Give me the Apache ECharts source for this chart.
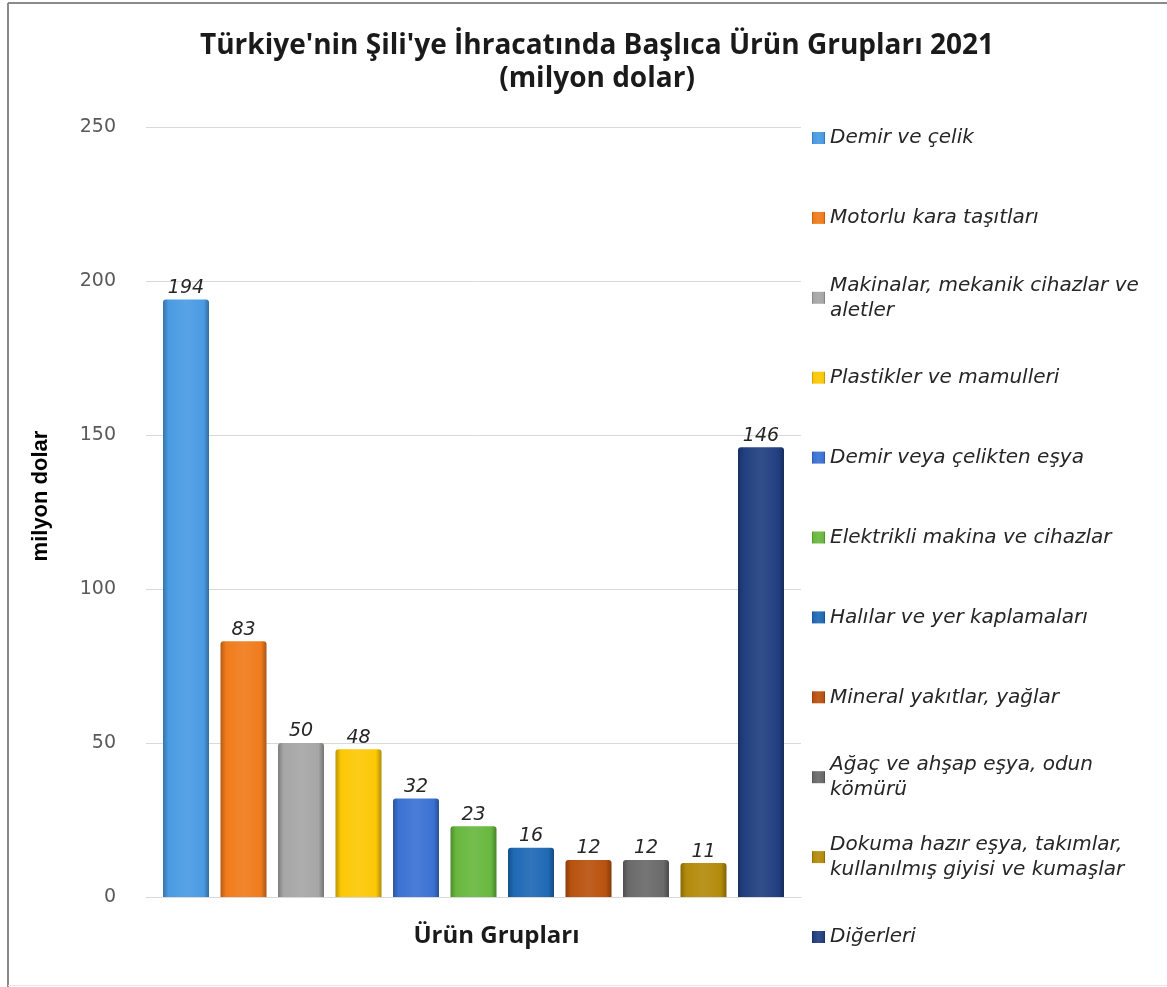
<!DOCTYPE html>
<html>
<head>
<meta charset="utf-8">
<script src="https://cdn.jsdelivr.net/npm/echarts@6/dist/echarts.min.js"></script>
<style>html,body{margin:0;padding:0;background:#fff;}#c{width:1167px;height:987px;}</style>
</head>
<body>
<div id="c"></div>
<script>
// ---- data ----
const productGroups = [
  'Demir ve çelik',
  'Motorlu kara taşıtları',
  'Makinalar, mekanik cihazlar ve aletler',
  'Plastikler ve mamulleri',
  'Demir veya çelikten eşya',
  'Elektrikli makina ve cihazlar',
  'Halılar ve yer kaplamaları',
  'Mineral yakıtlar, yağlar',
  'Ağaç ve ahşap eşya, odun kömürü',
  'Dokuma hazır eşya, takımlar, kullanılmış giyisi ve kumaşlar',
  'Diğerleri'
];
const legendLabels = [
  'Demir ve çelik',
  'Motorlu kara taşıtları',
  'Makinalar, mekanik cihazlar ve\naletler',
  'Plastikler ve mamulleri',
  'Demir veya çelikten eşya',
  'Elektrikli makina ve cihazlar',
  'Halılar ve yer kaplamaları',
  'Mineral yakıtlar, yağlar',
  'Ağaç ve ahşap eşya, odun\nkömürü',
  'Dokuma hazır eşya, takımlar,\nkullanılmış giyisi ve kumaşlar',
  'Diğerleri'
];
const exportValues = [194, 83, 50, 48, 32, 23, 16, 12, 12, 11, 146];
const yTicks = [0, 50, 100, 150, 200, 250];
const titleText = "Türkiye'nin Şili'ye İhracatında Başlıca Ürün Grupları 2021\n(milyon dolar)";
const yAxisName = 'milyon dolar';
const xAxisName = 'Ürün Grupları';

// ---- styles ----
const baseColors = ['#4a9be3', '#f07b1c', '#a6a6a6', '#fcc805', '#3b72d3', '#68b83f',
                    '#1f69b5', '#b9520f', '#6a6a6a', '#b38b0b', '#213f80'];
function shade(hex, f) {
  const n = parseInt(hex.slice(1), 16);
  let r = (n >> 16) & 255, g = (n >> 8) & 255, b = n & 255;
  if (f < 0) { r = r * (1 + f); g = g * (1 + f); b = b * (1 + f); }
  else { r = r + (255 - r) * f; g = g + (255 - g) * f; b = b + (255 - b) * f; }
  return 'rgb(' + Math.round(r) + ',' + Math.round(g) + ',' + Math.round(b) + ')';
}
function grad(hex) {
  return new echarts.graphic.LinearGradient(0, 0, 1, 0, [
    { offset: 0, color: shade(hex, -0.25) },
    { offset: 0.12, color: hex },
    { offset: 0.5, color: shade(hex, 0.08) },
    { offset: 0.88, color: hex },
    { offset: 1, color: shade(hex, -0.3) }
  ]);
}

const chart = echarts.init(document.getElementById('c'), null, { renderer: 'canvas' });

const series = productGroups.map((name, i) => ({
  name: name,
  type: 'bar',
  data: [exportValues[i]],
  barWidth: 46,
  barGap: '25%',
  itemStyle: { color: grad(baseColors[i]), borderRadius: [3, 3, 0, 0] },
  label: {
    show: true, position: 'top', distance: 2,
    fontFamily: 'DejaVu Sans', fontStyle: 'italic', fontSize: 19, color: '#262626'
  }
}));

const legends = productGroups.map((name, i) => {
  const twoLine = legendLabels[i].indexOf('\n') >= 0;
  const iconCenter = 138 + i * 79.9;
  return {
    left: 812,
    top: iconCenter - (twoLine ? 37.5 : 12.5),
    orient: 'vertical',
    data: [name],
    icon: 'rect',
    itemWidth: 13,
    itemHeight: 12,
    itemGap: 0,
    padding: 0,
    selectedMode: false,
    formatter: () => legendLabels[i],
    textStyle: {
      fontFamily: 'DejaVu Sans', fontStyle: 'italic', fontSize: 20, color: '#262626',
      lineHeight: 25,
      padding: twoLine ? [25, 0, 0, 0] : 0
    }
  };
});

chart.setOption({
  backgroundColor: '#ffffff',
  animation: false,
  title: {
    text: titleText,
    left: 592,
    top: 25,
    textAlign: 'center',
    textStyle: { fontFamily: 'Open Sans', fontWeight: 'bold', fontSize: 28, lineHeight: 33, color: '#1a1a1a' }
  },
  legend: legends,
  grid: { left: 146, right: 366, top: 127, bottom: 90 },
  xAxis: {
    type: 'category',
    data: [''],
    name: xAxisName,
    nameLocation: 'middle',
    nameGap: 27,
    nameTextStyle: { fontFamily: 'Open Sans', fontWeight: 'bold', fontSize: 24, color: '#1a1a1a', padding: [0, 0, 0, 46] },
    axisLine: { lineStyle: { color: '#d9d9d9', width: 1 } },
    axisTick: { show: false },
    axisLabel: { show: false }
  },
  yAxis: {
    type: 'value',
    min: yTicks[0],
    max: yTicks[yTicks.length - 1],
    interval: yTicks[1] - yTicks[0],
    name: yAxisName,
    nameLocation: 'middle',
    nameRotate: 90,
    nameGap: 94,
    nameTextStyle: { fontFamily: 'Liberation Sans Narrow, Liberation Sans', fontWeight: 'bold', fontSize: 22, color: '#000', padding: [0, 0, 0, 32] },
    axisLine: { show: false },
    axisTick: { show: false },
    axisLabel: { fontFamily: 'DejaVu Sans', fontSize: 19, color: '#595959', margin: 30 },
    splitLine: { lineStyle: { color: '#d9d9d9', width: 1 } }
  },
  graphic: [
    { type: 'line', shape: { x1: 8, y1: 3, x2: 8, y2: 987 }, style: { stroke: '#8a8a8a', lineWidth: 2 } },
    { type: 'line', shape: { x1: 8, y1: 3, x2: 1167, y2: 3 }, style: { stroke: '#8a8a8a', lineWidth: 2 } },
    { type: 'line', shape: { x1: 8, y1: 985.5, x2: 1167, y2: 985.5 }, style: { stroke: '#e6e6e6', lineWidth: 1 } }
  ],
  series: series
});
</script>
</body>
</html>
